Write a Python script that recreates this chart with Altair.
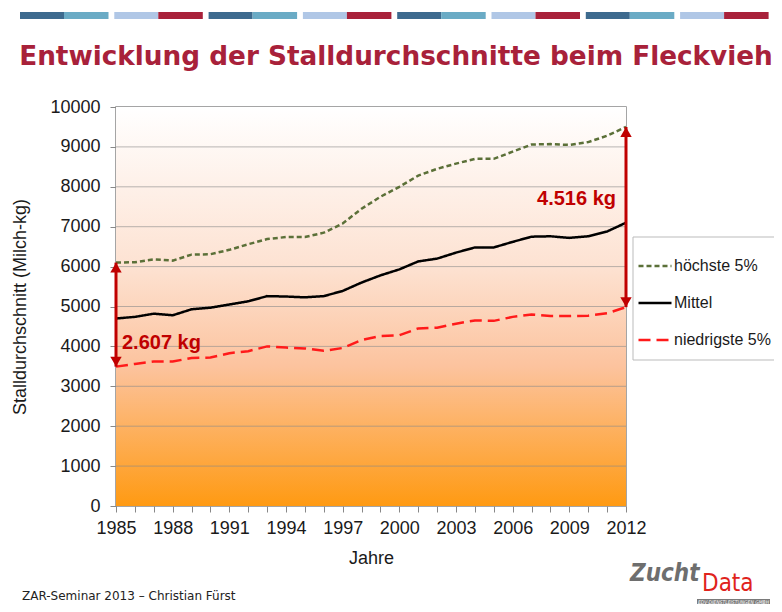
import altair as alt
import pandas as pd

years = list(range(1985, 2013))
hoechste = [6100, 6110, 6180, 6150, 6300, 6310, 6420, 6560, 6690, 6740, 6740, 6850, 7080, 7450,
            7750, 8000, 8280, 8450, 8580, 8700, 8700, 8880, 9060, 9070, 9050, 9120, 9280, 9500]
mittel = [4700, 4740, 4820, 4780, 4930, 4970, 5050, 5130, 5260, 5250, 5230, 5260, 5390, 5600,
          5780, 5930, 6130, 6200, 6350, 6480, 6480, 6620, 6750, 6760, 6720, 6760, 6880, 7100]
niedrigste = [3493, 3560, 3620, 3620, 3710, 3720, 3830, 3880, 4000, 3970, 3950, 3890, 3960, 4160,
              4260, 4280, 4450, 4470, 4570, 4650, 4640, 4740, 4800, 4760, 4760, 4770, 4830, 4984]
series_names = ["höchste 5%", "Mittel", "niedrigste 5%"]
series_colors = ["#5b7038", "#000000", "#ff1a1a"]
series_dash = [[5, 3], [1, 0], [12, 6]]
y_ticks = list(range(0, 10001, 1000))

arrow_years = [1985, 2012]
arrow_low = [3493, 4984]
arrow_high = [6100, 9500]
arrow_labels = ["2.607 kg", "4.516 kg"]
arrow_label_y = [4080, 7690]

title_text = "Entwicklung der Stalldurchschnitte beim Fleckvieh"
footer_text = "ZAR-Seminar 2013 \u2013 Christian Fürst"

FONT = "Liberation Sans"
DARKRED = "#c00000"

rows = []
for name, vals in zip(series_names, [hoechste, mittel, niedrigste]):
    for y, v in zip(years, vals):
        rows.append({"Jahr": y, "Wert": v, "Serie": name})
df = pd.DataFrame(rows)

arrows = pd.DataFrame({"Jahr": arrow_years, "low": arrow_low, "high": arrow_high,
                       "label": arrow_labels, "ly": arrow_label_y})
bg = pd.DataFrame({"x0": [years[0]], "x1": [years[-1]], "y0": [y_ticks[0]], "y1": [y_ticks[-1]]})
grid_df = pd.DataFrame({"g": y_ticks[1:-1]})

x_scale = alt.Scale(domain=[1985, 2012], nice=False, zero=False)
y_scale = alt.Scale(domain=[0, 10000], nice=False)
x_axis = alt.Axis(values=years, format="d",
                  labelExpr="(datum.value - 1985) % 3 == 0 ? datum.label : ''",
                  title="Jahre", grid=False, domain=False,
                  tickSize=6, tickColor="#888888", labelPadding=7,
                  labelFontSize=18, titleFontSize=18, titleFontWeight="normal",
                  labelColor="#1a1a1a", titleColor="#1a1a1a", titlePadding=12,
                  labelFont=FONT, titleFont=FONT, labelFlush=False)
y_axis = alt.Axis(values=y_ticks, format="d", title="Stalldurchschnitt (Milch-kg)",
                  grid=False, domain=False,
                  tickSize=6, tickColor="#888888", labelPadding=10,
                  labelFontSize=18, titleFontSize=18, titleFontWeight="normal",
                  labelColor="#1a1a1a", titleColor="#1a1a1a", titlePadding=20,
                  labelFont=FONT, titleFont=FONT)


def X(field):
    return alt.X(field, scale=x_scale, axis=x_axis, title="Jahre")


def Y(field):
    return alt.Y(field, scale=y_scale, axis=y_axis, title="Stalldurchschnitt (Milch-kg)")


gradient = alt.Gradient(gradient="linear", x1=0, x2=0, y1=0, y2=1,
                        stops=[alt.GradientStop(color="#ffffff", offset=0),
                               alt.GradientStop(color="#fde2d2", offset=0.4),
                               alt.GradientStop(color="#fcc39e", offset=0.65),
                               alt.GradientStop(color="#ff9a12", offset=1)])
background = alt.Chart(bg).mark_rect(fill=gradient).encode(
    x=X("x0:Q"), x2="x1:Q", y=Y("y0:Q"), y2="y1:Q")
grid = alt.Chart(grid_df).mark_rule(color="#8a8a8a", strokeWidth=1, opacity=0.6).encode(
    y=Y("g:Q"))

lines = alt.Chart(df).mark_line(strokeWidth=2.5).encode(
    x=X("Jahr:Q"),
    y=Y("Wert:Q"),
    color=alt.Color("Serie:N", scale=alt.Scale(domain=series_names, range=series_colors),
                    sort=series_names,
                    legend=alt.Legend(title=None, orient="none", legendX=521, legendY=141,
                                      symbolType="stroke", symbolSize=1089, symbolStrokeWidth=2.5,
                                      labelFontSize=16, labelFont=FONT, labelColor="#1a1a1a",
                                      rowPadding=11, padding=0, labelOffset=1)),
    strokeDash=alt.StrokeDash("Serie:N", scale=alt.Scale(domain=series_names, range=series_dash),
                              sort=series_names, legend=None),
)

legend_box = alt.Chart(bg).mark_rect(fill="white", stroke="#bbbbbb", strokeWidth=1).encode(
    x=alt.value(517), x2=alt.value(700), y=alt.value(130), y2=alt.value(253))

rule = alt.Chart(arrows).mark_rule(color=DARKRED, strokeWidth=3).encode(
    x=X("Jahr:Q"), y=Y("low:Q"), y2="high:Q")
head_up = alt.Chart(arrows).mark_point(shape="triangle-up", filled=True, color=DARKRED,
                                       size=130, opacity=1, yOffset=5).encode(x=X("Jahr:Q"), y=Y("high:Q"))
head_dn = alt.Chart(arrows).mark_point(shape="triangle-down", filled=True, color=DARKRED,
                                       size=130, opacity=1, yOffset=-5).encode(x=X("Jahr:Q"), y=Y("low:Q"))
lab_left = alt.Chart(arrows).transform_filter("datum.Jahr == 1985").mark_text(
    align="left", baseline="middle", dx=6, font=FONT, fontSize=20, fontWeight="bold",
    color=DARKRED).encode(x=X("Jahr:Q"), y=Y("ly:Q"), text="label:N")
lab_right = alt.Chart(arrows).transform_filter("datum.Jahr == 2012").mark_text(
    align="right", baseline="middle", dx=-10, font=FONT, fontSize=20, fontWeight="bold",
    color=DARKRED).encode(x=X("Jahr:Q"), y=Y("ly:Q"), text="label:N")

# decorative header bars
bar_rows = []
colsA = ["#3d6a8e", "#6aabc5"]
colsB = ["#b0c7e6", "#a8213a"]
for i in range(8):
    cols = colsA if i % 2 == 0 else colsB
    x0 = 20 + i * 94.3 - 116
    bar_rows.append({"bx": x0, "bx2": x0 + 44, "c": cols[0]})
    bar_rows.append({"bx": x0 + 44, "bx2": x0 + 88.5, "c": cols[1]})
bars_df = pd.DataFrame(bar_rows)
top_bars = alt.Chart(bars_df).mark_rect().encode(
    x=alt.X("bx:Q", scale=None), x2="bx2:Q", y=alt.value(-95), y2=alt.value(-88),
    color=alt.Color("c:N", scale=None))

one = alt.Chart(bg)
title = one.mark_text(
    text=title_text, font="DejaVu Sans", fontSize=26.3, fontWeight="bold", color="#a8213a",
    align="center", baseline="alphabetic").encode(x=alt.value(280), y=alt.value(-42))
footer = one.mark_text(
    text=footer_text, font="DejaVu Sans", fontSize=12, color="#222222",
    align="left", baseline="alphabetic").encode(x=alt.value(-94), y=alt.value(493))
logo1 = one.mark_text(
    text="Zucht", font="DejaVu Sans Condensed", fontSize=24, fontWeight="bold", fontStyle="italic",
    color="#6e6e6e", align="left", baseline="alphabetic").encode(x=alt.value(514), y=alt.value(474))
logo2 = one.mark_text(
    text="Data", font="DejaVu Sans Condensed", fontSize=24, color="#e0231c",
    align="left", baseline="alphabetic").encode(x=alt.value(586), y=alt.value(484))
logo_bar = one.mark_rect(color="#7a7a7a").encode(
    x=alt.value(581), x2=alt.value(654), y=alt.value(492), y2=alt.value(498))
logo_sub = one.mark_text(
    text="EDV-DIENSTLEISTUNGEN GMBH", font="DejaVu Sans Condensed", fontSize=5, fontStyle="italic",
    color="white", align="center", baseline="middle").encode(x=alt.value(617.5), y=alt.value(495))

chart = alt.layer(background, grid, top_bars, title, footer, logo1, logo2, logo_bar, logo_sub,
                  lines, legend_box, rule, head_up, head_dn, lab_left, lab_right).properties(
    width=510, height=399,
    autosize=alt.AutoSizeParams(type="none"),
    padding={"left": 108, "top": 99, "right": 148, "bottom": 98},
    background="white",
).configure_view(stroke="#888888", strokeWidth=1.5)

chart.save("out.html", embed_options={"renderer": "svg", "actions": False})
